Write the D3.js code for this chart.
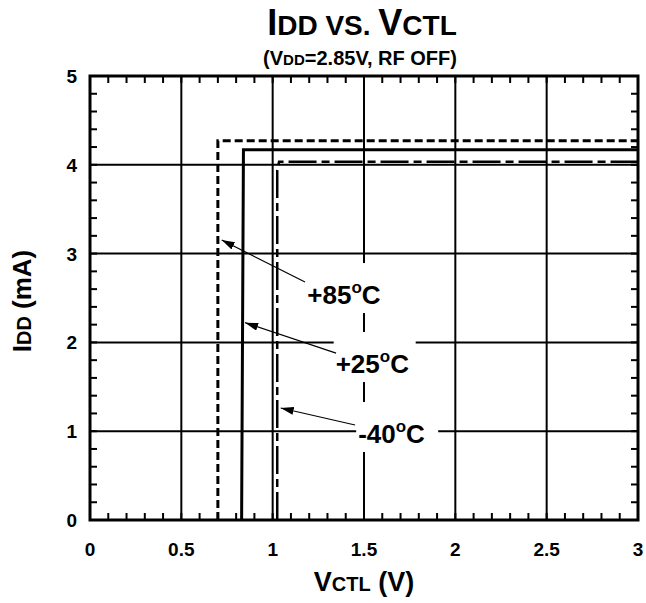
<!DOCTYPE html>
<html><head><meta charset="utf-8">
<script src="https://cdn.jsdelivr.net/npm/d3@7/dist/d3.min.js"></script>
<style>
html,body{margin:0;padding:0;background:#fff;}
svg{display:block;}
text{font-family:"Liberation Sans",Arial,Helvetica,sans-serif;font-weight:bold;fill:#000;}
</style></head>
<body>
<svg id="chart" width="646" height="603"></svg>
<script>
// ---- data ----
const xTickValues = [0, 0.5, 1, 1.5, 2, 2.5, 3];
const xTickLabels = ["0", "0.5", "1", "1.5", "2", "2.5", "3"];
const yTickValues = [0, 1, 2, 3, 4, 5];
const yTickLabels = ["0", "1", "2", "3", "4", "5"];

const vctl85 = [0.70, 0.70, 3.0];
const idd85  = [0, 4.27, 4.27];
const vctl25 = [0.83, 0.84, 3.0];
const idd25  = [0, 4.17, 4.17];
const vctl40 = [1.025, 1.025, 1.035, 3.0];
const idd40  = [0, 3.94, 4.035, 4.035];

const seriesNames = ["+85", "+25", "-40"];
// annotation anchors in data units: label start, arrow tail, arrow tip
const annLabelV = [1.190, 1.345, 1.468];
const annLabelI = [2.432, 1.655, 0.867];
const annTailV  = [1.177, 1.347, 1.451];
const annTailI  = [2.680, 1.880, 1.070];
const annTipV   = [0.721, 0.849, 1.044];
const annTipI   = [3.153, 2.222, 1.261];

// ---- layout ----
const svg = d3.select("#chart");
const x = d3.scaleLinear().domain([0, 3]).range([90, 638]);
const y = d3.scaleLinear().domain([0, 5]).range([520, 76]);

// grid
const g = svg.append("g");
g.selectAll("line.gx").data(xTickValues.slice(1, -1)).join("line").attr("class", "gx")
  .attr("x1", d => x(d)).attr("x2", d => x(d)).attr("y1", y(0)).attr("y2", y(5))
  .attr("stroke", "#000").attr("stroke-width", 2);
g.selectAll("line.gy").data(yTickValues.slice(1, -1)).join("line").attr("class", "gy")
  .attr("x1", x(0)).attr("x2", x(3)).attr("y1", d => y(d)).attr("y2", d => y(d))
  .attr("stroke", "#000").attr("stroke-width", 2);

// label backgrounds (white boxes)
const ann = seriesNames.map((n, i) => ({
  name: n, lx: x(annLabelV[i]), ly: y(annLabelI[i]),
  tx: x(annTailV[i]), ty: y(annTailI[i]), px: x(annTipV[i]), py: y(annTipI[i])
}));
svg.selectAll("rect.bg").data(ann).join("rect").attr("class", "bg")
  .attr("x", d => d.lx - 2).attr("y", d => d.ly - 41)
  .attr("width", 82).attr("height", 50).attr("fill", "#fff");

// curves
const line = d3.line().x(d => x(d[0])).y(d => y(d[1]));
svg.append("path").datum(vctl85.map((v, i) => [v, idd85[i]]))
  .attr("d", line).attr("fill", "none").attr("stroke", "#000")
  .attr("stroke-width", 3).attr("stroke-dasharray", "8,4");
svg.append("path").datum(vctl25.map((v, i) => [v, idd25[i]]))
  .attr("d", line).attr("fill", "none").attr("stroke", "#000")
  .attr("stroke-width", 3);
svg.append("path").datum(vctl40.map((v, i) => [v, idd40[i]]))
  .attr("d", line).attr("fill", "none").attr("stroke", "#000")
  .attr("stroke-width", 2.5).attr("stroke-dasharray", "28,5,8,5");

// frame
svg.append("rect").attr("x", x(0)).attr("y", y(5))
  .attr("width", x(3) - x(0)).attr("height", y(0) - y(5))
  .attr("fill", "none").attr("stroke", "#000").attr("stroke-width", 3);

// minor ticks inside on all sides
const tl = 7;
const xMinor = d3.range(1, 30).map(i => i / 10);
const yMinor = d3.range(1, 25).map(i => i / 5);
const tg = svg.append("g").attr("stroke", "#000").attr("stroke-width", 2);
tg.selectAll("line.tb").data(xMinor).join("line").attr("class", "tb")
  .attr("x1", d => x(d)).attr("x2", d => x(d)).attr("y1", y(0)).attr("y2", y(0) - tl);
tg.selectAll("line.tt").data(xMinor).join("line").attr("class", "tt")
  .attr("x1", d => x(d)).attr("x2", d => x(d)).attr("y1", y(5)).attr("y2", y(5) + tl);
tg.selectAll("line.tlf").data(yMinor).join("line").attr("class", "tlf")
  .attr("x1", x(0)).attr("x2", x(0) + tl).attr("y1", d => y(d)).attr("y2", d => y(d));
tg.selectAll("line.tr").data(yMinor).join("line").attr("class", "tr")
  .attr("x1", x(3)).attr("x2", x(3) - tl).attr("y1", d => y(d)).attr("y2", d => y(d));

// arrows
svg.append("defs").append("marker").attr("id", "ah")
  .attr("viewBox", "0 0 13 8").attr("refX", 13).attr("refY", 4)
  .attr("markerWidth", 13).attr("markerHeight", 8).attr("markerUnits", "userSpaceOnUse")
  .attr("orient", "auto")
  .append("path").attr("d", "M0,0L13,4L0,8Z").attr("fill", "#000");
svg.selectAll("line.arr").data(ann).join("line").attr("class", "arr")
  .attr("x1", d => d.tx).attr("y1", d => d.ty).attr("x2", d => d.px).attr("y2", d => d.py)
  .attr("stroke", "#000").attr("stroke-width", 1.2).attr("marker-end", "url(#ah)");

// labels
const lt = svg.selectAll("text.ann").data(ann).join("text").attr("class", "ann")
  .attr("x", d => d.lx).attr("y", d => d.ly).style("font-size", "26px");
lt.append("tspan").text(d => d.name);
lt.append("tspan").attr("dy", -11).style("font-size", "17px").text("o");
lt.append("tspan").attr("dy", 11).text("C");

// tick labels
svg.selectAll("text.xt").data(xTickValues).join("text").attr("class", "xt")
  .attr("x", d => x(d)).attr("y", 556).attr("text-anchor", "middle")
  .style("font-size", "19px").text((d, i) => xTickLabels[i]);
svg.selectAll("text.yt").data(yTickValues).join("text").attr("class", "yt")
  .attr("x", 77).attr("y", d => y(d) + 7).attr("text-anchor", "end")
  .style("font-size", "19px").text((d, i) => yTickLabels[i]);

// axis titles
const xt = svg.append("text").attr("x", x(1.5)).attr("y", 591).attr("text-anchor", "middle")
  .style("font-size", "27px");
xt.append("tspan").text("V");
xt.append("tspan").style("font-size", "20px").text("CTL");
xt.append("tspan").text(" (V)");

const yt = svg.append("text").attr("transform", "translate(31,301) rotate(-90)")
  .attr("text-anchor", "middle").style("font-size", "26px");
yt.append("tspan").text("I");
yt.append("tspan").style("font-size", "20px").text("DD");
yt.append("tspan").text(" (mA)");

// title
const t = svg.append("text").attr("x", 362).attr("y", 35).attr("text-anchor", "middle")
  .style("font-size", "36px");
t.append("tspan").text("I");
t.append("tspan").style("font-size", "28px").text("DD VS. ");
t.append("tspan").text("V");
t.append("tspan").style("font-size", "28px").text("CTL");

const st = svg.append("text").attr("x", 360).attr("y", 65).attr("text-anchor", "middle")
  .style("font-size", "20px");
st.append("tspan").text("(V");
st.append("tspan").style("font-size", "15px").text("DD");
st.append("tspan").text("=2.85V, RF OFF)");
</script>
</body></html>
